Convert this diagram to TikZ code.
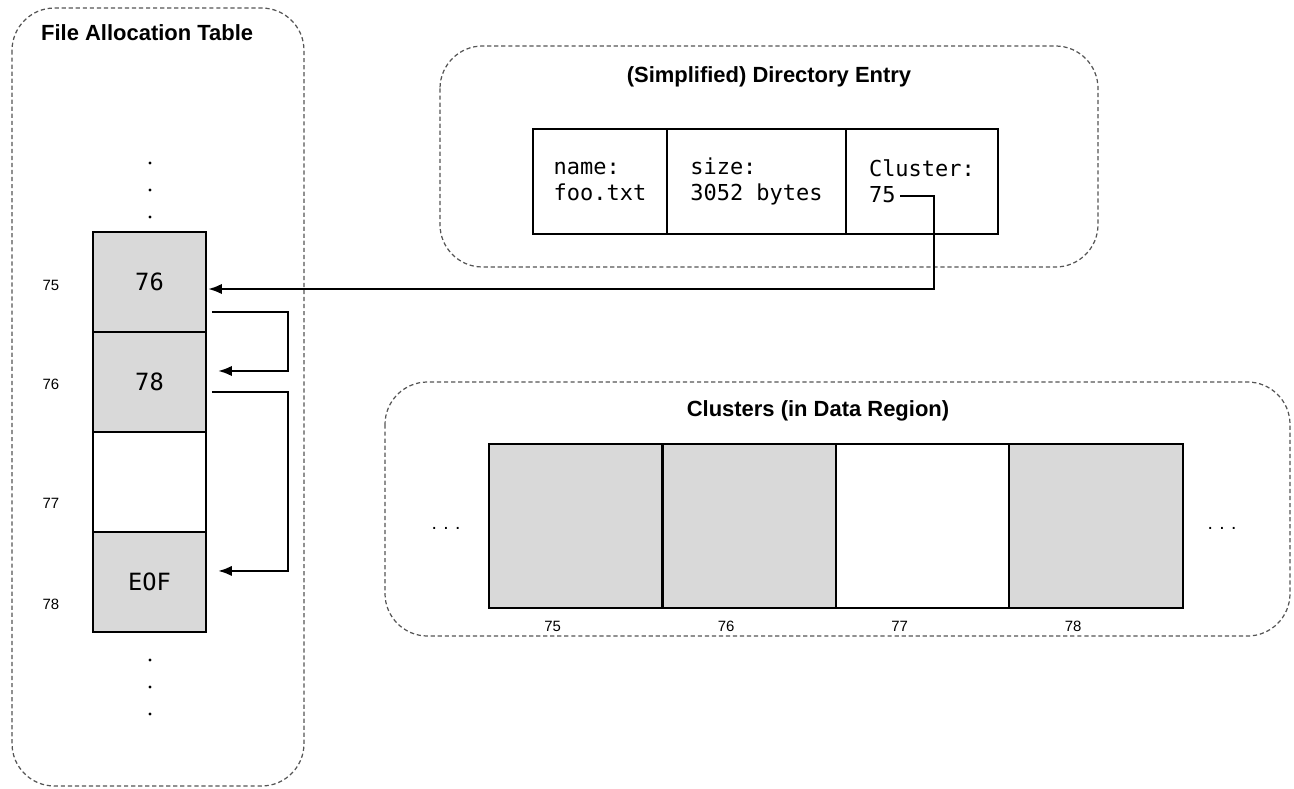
\documentclass[tikz,border=0pt]{standalone}
\usepackage{fontspec}
\setmainfont{Liberation Sans}
\setmonofont{DejaVu Sans Mono}
\usepackage{xcolor}
\usepackage{tikz}
\usetikzlibrary{arrows.meta,positioning}

\definecolor{cellgray}{HTML}{D9D9D9}
\definecolor{framegray}{HTML}{555555}

\begin{document}
\begin{tikzpicture}[x=0.02cm,y=-0.02cm,>={Latex[length=2.8mm,width=2.1mm]},
			panel/.style = {draw=framegray, line width=0.7pt, dash pattern=on 2.4pt off 1.6pt, rounded corners=0.85cm},
			ptitle/.style = {font=\bfseries\fontsize{12.5}{15}\selectfont},
			fatcell/.style = {draw, line width=1.4pt, fill=cellgray, outer sep=0, inner sep=0,
				minimum width=2.26cm, minimum height=2cm, font=\ttfamily\fontsize{13.5}{15}\selectfont},
			entcell/.style = {draw, line width=1pt, outer sep=0, inner sep=0.15cm, align=left, minimum height=2.1cm,
				font=\ttfamily\fontsize{12.5}{14.7}\selectfont},
			datcell/.style = {draw, line width=1.2pt, fill=cellgray, outer sep=0,
				minimum width=3.47cm, minimum height=3.28cm},
			idx/.style = {font=\fontsize{8.5}{10}\selectfont, text height=1.6ex, text depth=0pt},
			link/.style = {->, line width=1.4pt}
			]
			\useasboundingbox (0,0) rectangle (1294,788);

			% file allocation table
			\draw[panel] (12,8) rectangle (304,786);
			\node [ptitle, anchor=west] (fattitle) at (35,33) {File Allocation Table};
			\node [fatcell] (fat75) at (149.5,282) {76};
			\node [fatcell, below=0cm of fat75] (fat76) {78};
			\node [fatcell, fill=white, below=0cm of fat76] (fat77) {};
			\node [fatcell, below=0cm of fat77] (fat78) {EOF};
			\node [idx] (row75) at (51,283) {75};
			\node [idx] (row76) at (51,382) {76};
			\node [idx] (row77) at (51,501) {77};
			\node [idx] (row78) at (51,602) {78};
			\foreach \y in {163,190,217,660,687,714}
				\fill (150,\y) circle (1.6);

			% directory entry
			\draw[panel] (440,46) rectangle (1098,267);
			\node [ptitle] (dirtitle) at (769,77) {(Simplified) Directory Entry};
			\node [entcell, minimum width=2.68cm, anchor=north west] (ename) at (533,129) {name:\\foo.txt};
			\node [entcell, minimum width=3.58cm, right=0cm of ename] (esize) {size:\\3052 bytes};
			\node [entcell, minimum width=3.04cm, right=0cm of esize] (eclus) {Cluster:\\75\phantom{00}};
			\coordinate (ptr) at (900,196);

			% data region
			\draw[panel] (385,382) rectangle (1290,636);
			\node [ptitle] (dattitle) at (818,411) {Clusters (in Data Region)};
			\node [datcell, anchor=north west] (dat75) at (489,444) {};
			\node [datcell, right=0cm of dat75] (dat76) {};
			\node [datcell, fill=white, right=0cm of dat76] (dat77) {};
			\node [datcell, right=0cm of dat77] (dat78) {};
			\node [idx, below=0.05cm of dat75, xshift=-0.46cm] (lbl75) {75};
			\node [idx, below=0.05cm of dat76, xshift=-0.46cm] (lbl76) {76};
			\node [idx, below=0.05cm of dat77, xshift=-0.46cm] (lbl77) {77};
			\node [idx, below=0.05cm of dat78, xshift=-0.46cm] (lbl78) {78};
			\node [idx, font=\fontsize{11}{12}\selectfont] (moreleft) at (446,522) {.\,\,.\,\,.};
			\node [idx, font=\fontsize{11}{12}\selectfont] (moreright) at (1222,522) {.\,\,.\,\,.};

			% cluster chain
			\draw[link] (ptr) -- ++(34,0) |- ([shift={(2,7)}]fat75.east);
			\draw[link] ([shift={(6,30)}]fat75.east) -- ++(76,0) |- ([shift={(12,-11)}]fat76.east);
			\draw[link] ([shift={(6,10)}]fat76.east) -- ++(76,0) |- ([shift={(12,-11)}]fat78.east);
		\end{tikzpicture}
\end{document}
